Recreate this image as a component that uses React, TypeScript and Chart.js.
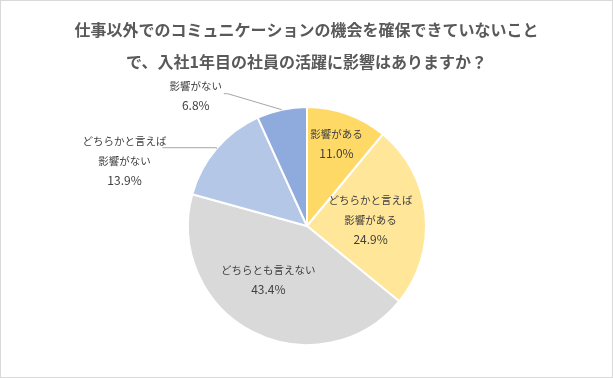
import React, { useEffect, useRef } from "react";
import { Chart, registerables } from "chart.js";

Chart.register(...registerables);

const TITLE_LINES = [
  "仕事以外でのコミュニケーションの機会を確保できていないこと",
  "で、入社1年目の社員の活躍に影響はありますか？",
];
const CATEGORIES = [
  "影響がある",
  "どちらかと言えば影響がある",
  "どちらとも言えない",
  "どちらかと言えば影響がない",
  "影響がない",
];
const LABEL_LINES = [
  ["影響がある"],
  ["どちらかと言えば", "影響がある"],
  ["どちらとも言えない"],
  ["どちらかと言えば", "影響がない"],
  ["影響がない"],
];
const VALUES = [11.0, 24.9, 43.4, 13.9, 6.8];
const COLORS = ["#FFD966", "#FFE699", "#D9D9D9", "#B4C7E7", "#8FAADC"];

const FONT = '"Noto Sans CJK JP", "Noto Sans", sans-serif';

// label placement (styling, not data)
const PLACEMENT: any[] = [
  { inside: true, r: 0.73, dx: 0, dy: -1 },
  { inside: true, r: 0.537, dx: 0, dy: 0 },
  { inside: true, r: 0.56, dx: -8, dy: -5 },
  { inside: false, ex: 0, ey: -1, hx: -54, tx: -38, ty: 13 },
  { inside: false, ex: -54, ey: -16, hx: -4, tx: -28, ty: 2 },
];

const decorPlugin = {
  id: "decor",
  beforeDraw(chart: any) {
    const ctx = chart.ctx;
    ctx.save();
    ctx.fillStyle = "#ffffff";
    ctx.fillRect(0, 0, chart.width, chart.height);
    ctx.strokeStyle = "#D9D9D9";
    ctx.lineWidth = 1;
    ctx.strokeRect(0.5, 0.5, chart.width - 1, chart.height - 1);
    ctx.fillStyle = "#595959";
    ctx.font = `bold 16px ${FONT}`;
    ctx.textAlign = "center";
    ctx.textBaseline = "middle";
    TITLE_LINES.forEach((t, i) => ctx.fillText(t, 306.5, 29.5 + i * 32));
    ctx.restore();
  },
  afterDatasetsDraw(chart: any) {
    const ctx = chart.ctx;
    const meta = chart.getDatasetMeta(0);
    ctx.save();
    ctx.textAlign = "center";
    ctx.textBaseline = "middle";
    const lh = 19.5;
    meta.data.forEach((arc: any, i: number) => {
      const p = arc.getProps(["x", "y", "startAngle", "endAngle", "outerRadius"], true);
      const mid = (p.startAngle + p.endAngle) / 2;
      const cfg = PLACEMENT[i];
      const lines = [...LABEL_LINES[i], VALUES[i].toFixed(1) + "%"];
      let cx: number, cy: number;
      if (cfg.inside) {
        const r = p.outerRadius * cfg.r;
        cx = p.x + Math.cos(mid) * r + cfg.dx;
        cy = p.y + Math.sin(mid) * r + cfg.dy;
      } else {
        const exX = p.x + Math.cos(mid) * p.outerRadius;
        const exY = p.y + Math.sin(mid) * p.outerRadius;
        const elX = exX + cfg.ex;
        const elY = exY + cfg.ey;
        const enX = elX + cfg.hx;
        ctx.strokeStyle = "#A6A6A6";
        ctx.lineWidth = 1;
        ctx.beginPath();
        ctx.moveTo(exX, exY);
        ctx.lineTo(elX, elY);
        ctx.lineTo(enX, elY);
        ctx.stroke();
        cx = enX + cfg.tx;
        cy = elY + cfg.ty;
      }
      ctx.fillStyle = "#404040";
      const top = cy - ((lines.length - 1) * lh) / 2;
      lines.forEach((t, j) => {
        const isPct = j === lines.length - 1;
        ctx.font = isPct ? `12px ${FONT}` : `10.5px ${FONT}`;
        ctx.fillText(t, cx, top + j * lh);
      });
    });
    ctx.restore();
  },
};

export default function App() {
  const ref = useRef<HTMLCanvasElement>(null);
  useEffect(() => {
    if (!ref.current) return;
    const chart = new Chart(ref.current, {
      type: "pie",
      data: {
        labels: CATEGORIES,
        datasets: [
          {
            data: VALUES,
            backgroundColor: COLORS,
            borderColor: "#ffffff",
            borderWidth: 2,
          },
        ],
      },
      options: {
        responsive: false,
        animation: false,
        radius: 119,
        layout: { padding: { top: 74, left: 1, right: 0, bottom: 0 } },
        plugins: {
          legend: { display: false },
          title: { display: false },
          tooltip: { enabled: false },
        },
      } as any,
      plugins: [decorPlugin],
    });
    return () => chart.destroy();
  }, []);
  return (
    <div style={{ position: "fixed", left: 0, top: 0, width: 613, height: 378 }}>
      <canvas ref={ref} width={613} height={378} style={{ display: "block" }} />
    </div>
  );
}
